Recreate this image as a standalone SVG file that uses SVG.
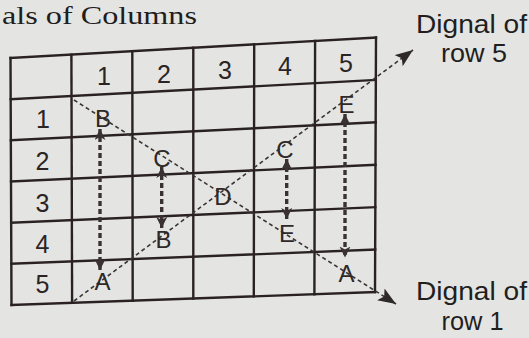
<svg xmlns="http://www.w3.org/2000/svg" width="529" height="338" viewBox="0 0 529 338">
<style>
.bg{fill:#e4e5e2}
.grid line{stroke:#2a2222;stroke-width:2.4;stroke-linecap:square}
.t{font-family:"Liberation Sans",Arial,sans-serif;font-size:25px;fill:#2a2424;text-anchor:middle}
.lt{font-family:"Liberation Sans",Arial,sans-serif;font-size:24px;fill:#2e2828;text-anchor:middle}
.lab{font-family:"Liberation Sans",Arial,sans-serif;font-size:25.5px;fill:#231e1e}
.hdr{font-family:"Liberation Serif","Times New Roman",serif;font-size:25px;fill:#221c1c}
.diag{stroke:#3a3434;stroke-width:1.6;stroke-dasharray:4 3;fill:none}
.vert{stroke:#3a3232;stroke-width:3.4;stroke-dasharray:5 3;fill:none}
</style>
<defs>
<marker id="big" markerUnits="userSpaceOnUse" markerWidth="20" markerHeight="16" refX="18" refY="7" orient="auto">
<path d="M0,0 L18,7 L0,14 L4,7 z" fill="#2e2828"/>
</marker>
<marker id="sm" markerUnits="userSpaceOnUse" markerWidth="13" markerHeight="12" refX="11" refY="5.5" orient="auto-start-reverse">
<path d="M0,0 L11,5.5 L0,11 L3,5.5 z" fill="#3a3232"/>
</marker>
</defs>
<rect class="bg" x="0" y="0" width="529" height="338"/>
<text class="hdr" x="2" y="23.5" textLength="195" lengthAdjust="spacingAndGlyphs">als of Columns</text>
<g id="grid" class="grid">
<line x1="10.5" y1="58" x2="376" y2="37.5"/>
<line x1="10.7" y1="99.2" x2="375.8" y2="79.9"/>
<line x1="10.8" y1="140.3" x2="375.7" y2="122.3"/>
<line x1="11" y1="181.5" x2="375.5" y2="164.8"/>
<line x1="11.2" y1="222.7" x2="375.3" y2="207.2"/>
<line x1="11.3" y1="263.8" x2="375.2" y2="249.6"/>
<line x1="11.5" y1="305" x2="375" y2="292"/>
<line x1="10.5" y1="58" x2="11.5" y2="305"/>
<line x1="71.4" y1="54.6" x2="72.1" y2="302.8"/>
<line x1="132.3" y1="51.2" x2="132.7" y2="300.7"/>
<line x1="193.3" y1="47.8" x2="193.3" y2="298.5"/>
<line x1="254.2" y1="44.3" x2="253.8" y2="296.3"/>
<line x1="315.1" y1="40.9" x2="314.4" y2="294.2"/>
<line x1="376" y1="37.5" x2="375" y2="292"/>
</g>
<g id="headers">
<text class="t" x="104" y="85">1</text>
<text class="t" x="164" y="83">2</text>
<text class="t" x="225" y="78.5">3</text>
<text class="t" x="285" y="75">4</text>
<text class="t" x="346" y="71.5">5</text>
<text class="t" x="43" y="128">1</text>
<text class="t" x="42.5" y="170">2</text>
<text class="t" x="42.5" y="211.5">3</text>
<text class="t" x="42.5" y="253">4</text>
<text class="t" x="42.5" y="293">5</text>
</g>
<g id="connectors">
<line class="diag" x1="74" y1="100" x2="396" y2="304" marker-end="url(#big)"/>
<line class="diag" x1="74" y1="301" x2="413" y2="50" marker-end="url(#big)"/>
<line class="vert" x1="100" y1="129" x2="100" y2="270" marker-start="url(#sm)" marker-end="url(#sm)"/>
<line class="vert" x1="161.7" y1="167" x2="161.7" y2="228" marker-start="url(#sm)" marker-end="url(#sm)"/>
<line class="vert" x1="286.7" y1="159" x2="286.7" y2="219" marker-start="url(#sm)" marker-end="url(#sm)"/>
<line class="vert" x1="345" y1="114" x2="345" y2="257.5" marker-start="url(#sm)" marker-end="url(#sm)"/>
</g>
<g id="node-B1"><text class="lt" x="103" y="127">B</text></g>
<g id="node-C1"><text class="lt" x="162" y="167">C</text></g>
<g id="node-D"><text class="lt" x="223" y="205">D</text></g>
<g id="node-C2"><text class="lt" x="285" y="158">C</text></g>
<g id="node-E1"><text class="lt" x="346.5" y="113">E</text></g>
<g id="node-B2"><text class="lt" x="163.5" y="248">B</text></g>
<g id="node-E2"><text class="lt" x="287" y="242">E</text></g>
<g id="node-A1"><text class="lt" x="102.5" y="290">A</text></g>
<g id="node-A2"><text class="lt" x="346.5" y="281.5">A</text></g>
<g id="label-row5">
<text class="lab" x="416" y="33" textLength="111" lengthAdjust="spacingAndGlyphs">Dignal of</text>
<text class="lab" x="441" y="62" textLength="66" lengthAdjust="spacingAndGlyphs">row 5</text>
</g>
<g id="label-row1">
<text class="lab" x="416" y="300" textLength="111" lengthAdjust="spacingAndGlyphs">Dignal of</text>
<text class="lab" x="441.5" y="330" textLength="62" lengthAdjust="spacingAndGlyphs">row 1</text>
</g>
</svg>
